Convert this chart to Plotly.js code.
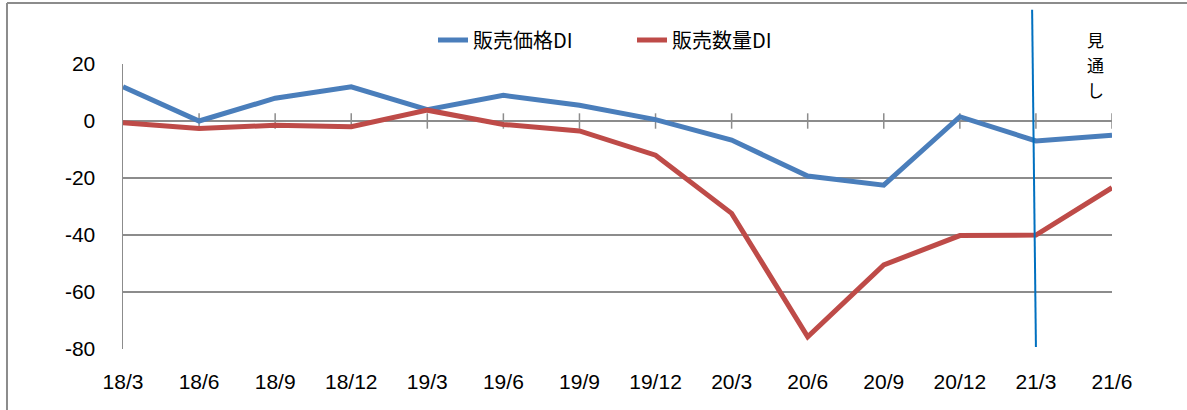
<!DOCTYPE html>
<html>
<head>
<meta charset="utf-8">
<script src="https://cdn.plot.ly/plotly-3.0.1.min.js"></script>
<style>html,body{margin:0;padding:0;background:#fff;}#chart{width:1187px;height:410px;}</style>
</head>
<body>
<div id="chart"></div>
<script>
const categories = ["18/3","18/6","18/9","18/12","19/3","19/6","19/9","19/12","20/3","20/6","20/9","20/12","21/3","21/6"];
const priceDI = [12, 0, 8, 12, 4, 9, 5.5, 0.5, -6.7, -19.3, -22.5, 1.5, -7, -5];
const volumeDI = [-0.6, -2.6, -1.5, -2, 3.8, -1.2, -3.5, -12, -32.4, -75.7, -50.5, -40.2, -40, -23.4];
const seriesNames = ["販売価格DI", "販売数量DI"];
const yTicks = [20, 0, -20, -40, -60, -80];
const yTickText = ["20", "0", "-20", "-40", "-60", "-80"];
const forecastChars = ["見", "通", "し"];
const forecastStart = "21/3";

const xIdx = categories.map((c, i) => i);
const fontLatin = "Liberation Sans, Arial, sans-serif";
const fontCJK = "Noto Sans CJK JP, sans-serif";
const gridCol = "#8c8c8c";

const traces = [
  {x: xIdx, y: priceDI, name: seriesNames[0], type: "scatter", mode: "lines",
   line: {color: "#4A7EBB", width: 5}},
  {x: xIdx, y: volumeDI, name: seriesNames[1], type: "scatter", mode: "lines",
   line: {color: "#BE4B48", width: 5}}
];

const shapes = [];
xIdx.slice(1).forEach(i => {
  shapes.push({type: "line", xref: "x", yref: "y", x0: i, x1: i, y0: -2.7, y1: 2.7,
    line: {color: gridCol, width: 1.5}, layer: "below"});
});
shapes.push({type: "line", xref: "paper", yref: "y", x0: 0, x1: 1, y0: 0, y1: 0,
  line: {color: gridCol, width: 1.5}, layer: "below"});
const fi = categories.indexOf(forecastStart);
shapes.push({type: "line", xref: "x", yref: "paper", x0: fi - 0.05, x1: fi, y0: 1.19, y1: 0.007,
  line: {color: "#0070C0", width: 2}});
shapes.push({type: "line", xref: "paper", yref: "paper", x0: -0.1173, x1: -0.1173, y0: 1.214, y1: -0.3,
  line: {color: "#8c8c8c", width: 2}});
shapes.push({type: "line", xref: "paper", yref: "paper", x0: -0.1173, x1: 1.1, y0: 1.214, y1: 1.214,
  line: {color: "#8c8c8c", width: 2}});

const annCentersPx = [40, 64.5, 89];
const annotations = forecastChars.map((ch, k) => ({
  xref: "x", yref: "paper", x: categories.length - 1.22, y: (349 - annCentersPx[k]) / 285,
  yanchor: "middle", xanchor: "center", text: ch, showarrow: false,
  font: {family: fontCJK, size: 17, color: "#000"}
}));

const layout = {
  width: 1187, height: 410,
  margin: {l: 123, r: 75, t: 64, b: 61},
  paper_bgcolor: "#fff", plot_bgcolor: "#fff",
  showlegend: true,
  legend: {orientation: "h", x: (433 - 123) / 989, xanchor: "left", y: 1.084, yanchor: "middle",
    font: {family: fontCJK, size: 20, color: "#000"}, itemwidth: 30,
    entrywidth: 154, entrywidthmode: "pixels",
    bgcolor: "rgba(0,0,0,0)"},
  xaxis: {
    type: "linear", range: [0, categories.length - 1],
    tickmode: "array", tickvals: xIdx, ticktext: categories,
    showgrid: false, zeroline: false,
    showline: false, ticks: "outside", ticklen: 14, tickcolor: "rgba(0,0,0,0)",
    tickfont: {family: fontLatin, size: 21, color: "#000"}
  },
  yaxis: {
    range: [-80, 20], tickmode: "array", tickvals: yTicks, ticktext: yTickText,
    showgrid: true, gridcolor: gridCol, gridwidth: 1.5,
    zeroline: false, showline: true, linecolor: gridCol, linewidth: 1.5,
    ticks: "outside", ticklen: 22, tickcolor: "rgba(0,0,0,0)",
    tickfont: {family: fontLatin, size: 21, color: "#000"}
  },
  shapes: shapes,
  annotations: annotations
};

Plotly.newPlot("chart", traces, layout, {displayModeBar: false, staticPlot: true});
</script>
</body>
</html>
